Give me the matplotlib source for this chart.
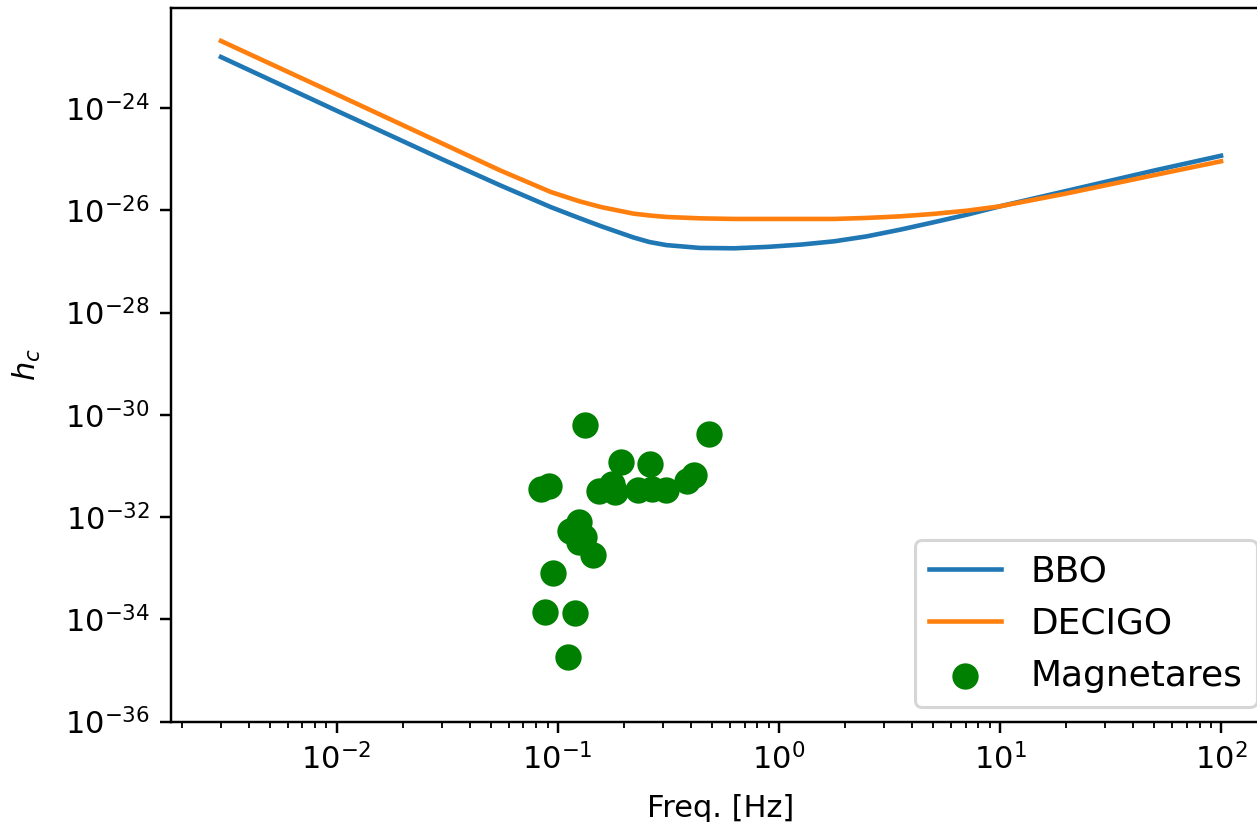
import matplotlib
matplotlib.use("Agg")
import matplotlib.pyplot as plt

# sensitivity curves
freq = [0.003, 0.01, 0.03, 0.055, 0.093, 0.125, 0.157, 0.22, 0.26, 0.31,
        0.44, 0.63, 0.89, 1.26, 1.78, 2.5, 3.55, 5.0, 7.1, 10.0, 20.0,
        50.0, 100.0]
hc_bbo = [1.00e-23, 8.91e-25, 1.00e-25, 3.08e-26, 1.16e-26, 7.08e-27,
          4.90e-27, 2.95e-27, 2.40e-27, 2.09e-27, 1.84e-27, 1.81e-27,
          1.93e-27, 2.14e-27, 2.48e-27, 3.10e-27, 4.20e-27, 5.83e-27,
          8.24e-27, 1.20e-26, 2.40e-26, 6.03e-26, 1.17e-25]
hc_decigo = [2.06e-23, 1.86e-24, 2.04e-25, 6.03e-26, 2.29e-26, 1.51e-26,
             1.16e-26, 8.63e-27, 7.94e-27, 7.43e-27, 6.98e-27, 6.79e-27,
             6.79e-27, 6.79e-27, 6.79e-27, 7.11e-27, 7.64e-27, 8.51e-27,
             9.86e-27, 1.20e-26, 2.14e-26, 4.90e-26, 9.12e-26]

# magnetars
mag_f = [0.1331, 0.4837, 0.1930, 0.2618, 0.4125, 0.3836, 0.0839, 0.0915,
         0.1540, 0.1758, 0.1814, 0.2297, 0.2656, 0.3083, 0.1251, 0.1139,
         0.1317, 0.1251, 0.1438, 0.0948, 0.0876, 0.1192, 0.1109]
mag_hc = [6.24e-31, 4.29e-31, 1.20e-31, 1.08e-31, 6.58e-32, 5.14e-32,
          3.51e-32, 3.96e-32, 3.25e-32, 4.49e-32, 3.10e-32, 3.43e-32,
          3.51e-32, 3.43e-32, 7.85e-33, 5.37e-33, 4.00e-33, 3.19e-33,
          1.80e-33, 8.20e-34, 1.41e-34, 1.33e-34, 1.86e-35]

fig = plt.figure(figsize=(1257 / 220, 822 / 220), dpi=220)
ax = fig.add_axes([0.13604, 0.12226, 0.87510, 0.86861])

ax.loglog(freq, hc_bbo, label="BBO")
ax.loglog(freq, hc_decigo, label="DECIGO")
ax.scatter(mag_f, mag_hc, color="green", s=58, label="Magnetares")

ax.set_ylim(1e-36, 9.3e-23)
ax.set_xlabel("Freq. [Hz]", labelpad=6)
ax.set_ylabel("$h_c$", labelpad=7)
ax.legend(loc="lower right", fontsize=11.8, borderaxespad=0.4)

fig.savefig("out.png", dpi=220)
